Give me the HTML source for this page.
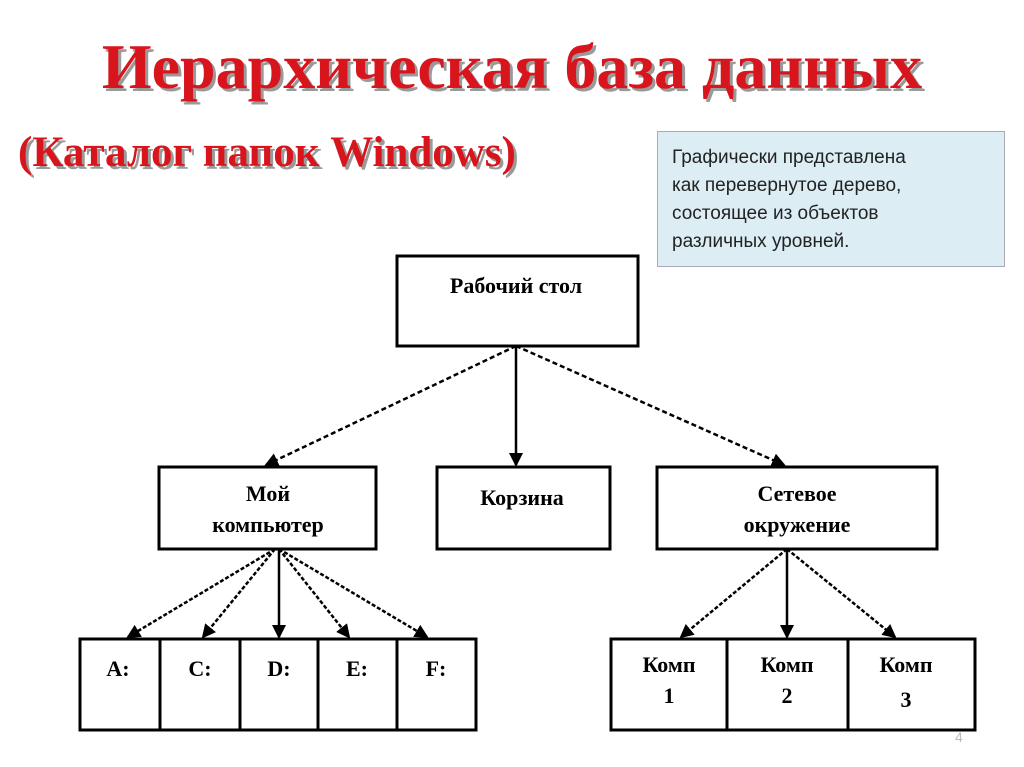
<!DOCTYPE html>
<html><head><meta charset="utf-8"><style>
body{margin:0;width:1024px;height:767px;background:#fff;position:relative;overflow:hidden;font-family:"Liberation Serif",serif}
.t{position:absolute;color:#d8141c;font-weight:bold;text-shadow:3px 3px 0 #9a9a9a;white-space:nowrap}
.note{position:absolute;left:657px;top:131px;width:348px;height:136px;background:#dcedf4;border:1px solid #aab;box-sizing:border-box;padding:12px 0 0 14px;font-family:"Liberation Sans",sans-serif;font-size:19px;line-height:28px;color:#222}
</style></head><body>
<div class="t" style="left:0;width:1024px;text-align:center;top:30px;font-size:64px">Иерархическая база данных</div>
<div class="t" style="left:18px;top:128px;font-size:43px">(Каталог папок Windows)</div>
<div class="note">Графически представлена<br>как перевернутое дерево,<br>состоящее из объектов<br>различных уровней.</div>
<svg width="1024" height="767" style="position:absolute;left:0;top:0" font-family="Liberation Serif,serif" font-weight="bold" font-size="22">
<defs><marker id="a" markerWidth="14" markerHeight="14" refX="12" refY="7" orient="auto" markerUnits="userSpaceOnUse"><path d="M0,0L14,7L0,14z" fill="#000"/></marker></defs>
<g fill="none" stroke="#000" stroke-width="3">
<rect x="397" y="256" width="241" height="90"/>
<rect x="159" y="467" width="217" height="82"/>
<rect x="437" y="467" width="173" height="82"/>
<rect x="657" y="467" width="280" height="82"/>
<rect x="80" y="639" width="396" height="91"/>
<path d="M160,639V730M240,639V730M318,639V730M397,639V730"/>
<rect x="611" y="639" width="364" height="91"/>
<path d="M727,639V730M848,639V730"/>
</g>
<g stroke="#000" stroke-width="2.5" marker-end="url(#a)">
<line x1="516" y1="346" x2="266" y2="465" stroke-dasharray="5,3"/>
<line x1="516" y1="346" x2="516" y2="465"/>
<line x1="516" y1="346" x2="784" y2="465" stroke-dasharray="5,3"/>
<line x1="275" y1="549" x2="128" y2="637" stroke-dasharray="4,2"/>
<line x1="275" y1="549" x2="203" y2="637" stroke-dasharray="4,2"/>
<line x1="279" y1="549" x2="279" y2="637"/>
<line x1="279" y1="549" x2="349" y2="637" stroke-dasharray="4,2"/>
<line x1="279" y1="549" x2="427" y2="637" stroke-dasharray="4,2"/>
<line x1="787" y1="549" x2="681" y2="637" stroke-dasharray="4,2"/>
<line x1="787" y1="549" x2="787" y2="637"/>
<line x1="787" y1="549" x2="895" y2="637" stroke-dasharray="4,2"/>
</g>
<g text-anchor="middle" fill="#000">
<text x="516" y="293">Рабочий  стол</text>
<text x="268" y="501">Мой</text><text x="268" y="532">компьютер</text>
<text x="522" y="505">Корзина</text>
<text x="797" y="501">Сетевое</text><text x="797" y="532">окружение</text>
<text x="118" y="676">A:</text><text x="200" y="676">C:</text><text x="279" y="676">D:</text><text x="357" y="676">E:</text><text x="436" y="676">F:</text>
<text x="669" y="672">Комп</text><text x="669" y="703">1</text>
<text x="787" y="672">Комп</text><text x="787" y="703">2</text>
<text x="906" y="672">Комп</text><text x="906" y="707">3</text>
</g>
<text x="955" y="742" fill="#bbb" font-family="Liberation Sans,sans-serif" font-weight="normal" font-size="14">4</text>
</svg>
</body></html>
